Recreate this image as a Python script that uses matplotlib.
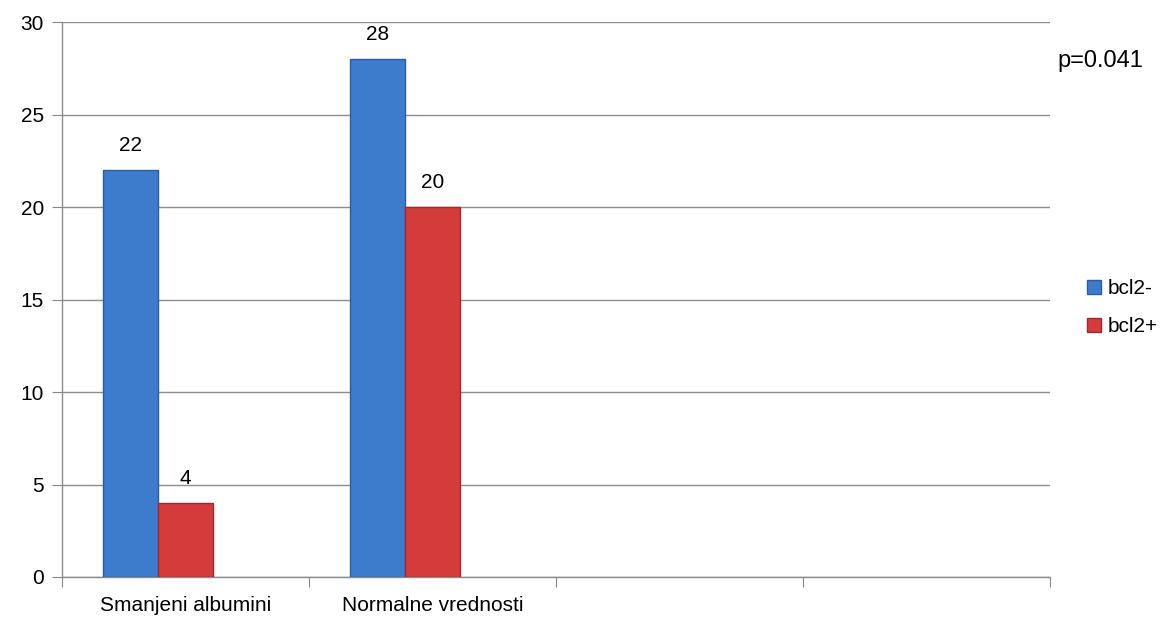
import matplotlib
matplotlib.use("Agg")
import matplotlib.pyplot as plt
import numpy as np

# data
categories = ["Smanjeni albumini", "Normalne vrednosti", "", ""]
bcl2_minus = [22, 28]
bcl2_plus = [4, 20]
series_names = ["bcl2-", "bcl2+"]
p_text = "p=0.041"

plt.rcParams['font.family'] = ['Liberation Sans', 'DejaVu Sans']

fig = plt.figure(figsize=(11.71, 6.31), dpi=100)
ax = fig.add_axes([0.053, 0.0856, 0.8437, 0.8794])

w = 0.224
x = np.arange(len(bcl2_minus))
b1 = ax.bar(x + 0.5 - w, bcl2_minus, w, align="center", color="#3d7bcc",
            edgecolor="#2b5d9e", linewidth=1.0, label=series_names[0], zorder=3)
b2 = ax.bar(x + 0.5, bcl2_plus, w, align="center", color="#d43c3c",
            edgecolor="#9e2b2b", linewidth=1.0, label=series_names[1], zorder=3)

for bars, vals in ((b1, bcl2_minus), (b2, bcl2_plus)):
    for r, v in zip(bars, vals):
        ax.text(r.get_x() + r.get_width() / 2, v + 0.8, str(v), ha="center",
                va="bottom", fontsize=15)

ax.set_xlim(0, len(categories))
ax.set_ylim(0, 30)
ax.set_yticks(range(0, 31, 5))
ax.set_xticks(range(0, len(categories) + 1))
ax.set_xticklabels([])
ax.set_xticks(np.arange(len(categories)) + 0.5, minor=True)
ax.set_xticklabels(categories, minor=True, fontsize=15)
ax.tick_params(axis="x", which="minor", length=0, pad=14)
ax.tick_params(axis="x", which="major", length=7, color="#888888")
ax.tick_params(axis="y", length=7, color="#888888", labelsize=15, pad=6)

ax.grid(axis="y", color="#8c8c8c", linewidth=1.0, zorder=0)
for s in ("top", "right"):
    ax.spines[s].set_visible(False)
for s in ("left", "bottom"):
    ax.spines[s].set_color("#8c8c8c")
    ax.spines[s].set_linewidth(1.0)

ax.legend(loc="center left", bbox_to_anchor=(1.018, 0.485), frameon=False,
          fontsize=15, handlelength=0.7, handleheight=0.7, handletextpad=0.3,
          labelspacing=0.9)
fig.text(0.94, 0.903, p_text, fontsize=17, ha="center", va="center")

fig.savefig("out.png", dpi=100)
